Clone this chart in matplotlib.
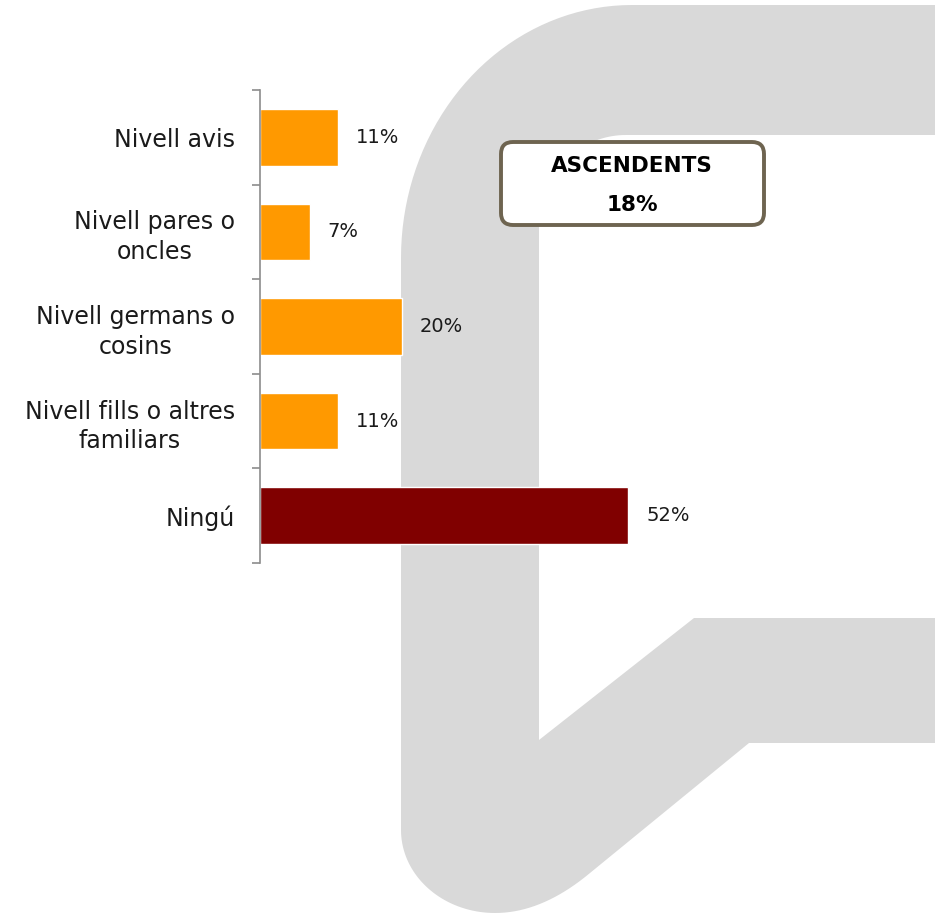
import matplotlib
matplotlib.use("Agg")
import matplotlib.pyplot as plt
from matplotlib.path import Path
from matplotlib.patches import PathPatch, FancyBboxPatch
import numpy as np

# Data
categories = ["Nivell avis", "Nivell pares o\noncles", "Nivell germans o\ncosins",
              "Nivell fills o altres\nfamiliars", "Ningú"]
values = [11, 7, 20, 11, 52]
bar_colors = ["#FF9900", "#FF9900", "#FF9900", "#FF9900", "#800000"]
box_title = "ASCENDENTS"
box_value = 18

plt.rcParams['font.family'] = ['DejaVu Sans']

W, H = 935, 915
fig = plt.figure(figsize=(W / 100, H / 100), dpi=100)
fig.patch.set_facecolor("white")

# Background logo shape, drawn in pixel coordinates
bg = fig.add_axes([0, 0, 1, 1], zorder=0)
bg.set_xlim(0, W)
bg.set_ylim(H, 0)
bg.axis("off")


def arc(cx, cy, rx, ry, a0, a1, n=40):
    t = np.radians(np.linspace(a0, a1, n))
    return list(zip(cx + rx * np.cos(t), cy + ry * np.sin(t)))


def quad(p0, p1, p2, n=20):
    t = np.linspace(0, 1, n)[:, None]
    p0, p1, p2 = map(np.array, (p0, p1, p2))
    pts = (1 - t) ** 2 * p0 + 2 * (1 - t) * t * p1 + t ** 2 * p2
    return [tuple(p) for p in pts]


pts = [(W, 5)]
pts += arc(632, 258, 231, 253, 270, 180)          # outer top-left corner
pts += arc(495, 830, 94, 83, 180, 90)             # bottom-left rounding
pts += quad((495, 913), (542, 913), (590, 873))
pts += [(749, 743), (W, 743), (W, 618), (694, 618), (539, 740)]
pts += arc(626, 224, 87, 89, 180, 270)            # inner corner
pts += [(W, 135), (W, 5)]
logo = PathPatch(Path(pts), facecolor="#D9D9D9", edgecolor="none")
bg.add_patch(logo)

# Annotation box
box = FancyBboxPatch((501, 142), 263, 83,
                     boxstyle="round,pad=0,rounding_size=12",
                     facecolor="white", edgecolor="#6E6450", linewidth=2.8)
bg.add_patch(box)
bg.text(632, 166, box_title, ha="center", va="center",
        fontsize=15.5, fontweight="bold", color="black")
bg.text(632, 205, f"{box_value}%", ha="center", va="center",
        fontsize=15.5, fontweight="bold", color="black")

# Bar chart
ax = fig.add_axes([260 / W, 1 - 563 / H, 640 / W, 473 / H], zorder=1)
ax.patch.set_alpha(0)
y = np.arange(len(categories))
ax.barh(y, values, height=0.6, color=bar_colors, edgecolor="white", linewidth=1)
ax.set_xlim(0, 640 / 7.08)
ax.set_ylim(len(categories) - 0.5, -0.5)

for yi, v in zip(y, values):
    ax.annotate(f"{v}%", (v, yi), xytext=(13, 0), textcoords="offset points",
                va="center", ha="left", fontsize=14, color="#1A1A1A")

ax.set_yticks(y)
ax.set_yticklabels(categories, fontsize=17, color="#1A1A1A",
                   multialignment="center", linespacing=1.3)
ax.set_yticks(np.arange(-0.5, len(categories)), minor=True)
ax.tick_params(axis="y", which="major", length=0, pad=18)
ax.tick_params(axis="y", which="minor", length=6, width=1.2, color="#8C8C8C")

for s in ["top", "right", "bottom"]:
    ax.spines[s].set_visible(False)
ax.spines["left"].set_color("#8C8C8C")
ax.spines["left"].set_linewidth(1.2)
ax.xaxis.set_visible(False)

fig.savefig("out.png", dpi=100)
